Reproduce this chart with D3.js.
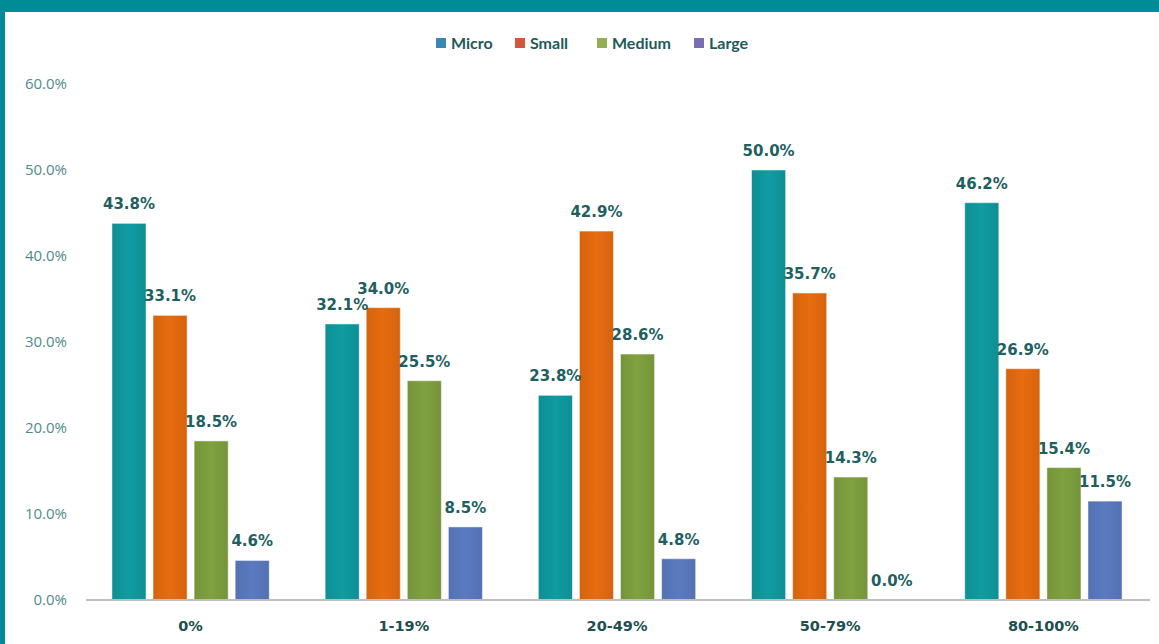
<html lang="en">
<head>
  <meta charset="UTF-8">
  <title>Chart</title>
  <script src="https://cdn.jsdelivr.net/npm/d3@7"></script>
  <style>
    body { margin: 0; background: #fff; }
  </style>
</head>
<body>
  <svg width="1159" height="644"></svg>
  <script>
    // data
    const categories = ["0%", "1-19%", "20-49%", "50-79%", "80-100%"];
    const series = ["Micro", "Small", "Medium", "Large"];
    const micro  = [43.8, 32.1, 23.8, 50.0, 46.2];
    const small  = [33.1, 34.0, 42.9, 35.7, 26.9];
    const medium = [18.5, 25.5, 28.6, 14.3, 15.4];
    const large  = [4.6, 8.5, 4.8, 0.0, 11.5];
    const yTicks = [0, 10, 20, 30, 40, 50, 60];

    const values = { Micro: micro, Small: small, Medium: medium, Large: large };
    const barColors = { Micro: "#0e979c", Small: "#e0680f", Medium: "#7b9c3e", Large: "#5877ba" };
    const legendColors = { Micro: "#3b87b3", Small: "#d4553a", Medium: "#92ae52", Large: "#7b6db2" };

    const svg = d3.select("svg");

    // frame
    svg.append("rect").attr("x", 0).attr("y", 0).attr("width", 1159).attr("height", 12).attr("fill", "#008c96");
    svg.append("rect").attr("x", 0).attr("y", 0).attr("width", 5).attr("height", 644).attr("fill", "#008c96");

    const x0 = d3.scaleBand().domain(categories).range([84, 1150]).paddingInner(0).paddingOuter(0);
    const x1 = d3.scaleBand().domain(series).range([0, x0.bandwidth()]).paddingInner(0.17).paddingOuter(0.68);
    const y = d3.scaleLinear().domain([0, 60]).range([600, 84]);

    // y axis labels
    svg.append("g").selectAll("text").data(yTicks).join("text")
      .attr("x", 67).attr("y", d => y(d) + 5)
      .attr("text-anchor", "end")
      .attr("font-family", "Open Sans, sans-serif").attr("font-size", 15)
      .attr("fill", "#4f8c8c")
      .text(d => d.toFixed(1) + "%");

    // gradients
    const defs = svg.append("defs");
    series.forEach(s => {
      const g = defs.append("linearGradient").attr("id", "g-" + s).attr("x1", 0).attr("x2", 1);
      const c = d3.color(barColors[s]);
      g.append("stop").attr("offset", "0%").attr("stop-color", c.darker(0.15));
      g.append("stop").attr("offset", "50%").attr("stop-color", c.brighter(0.1));
      g.append("stop").attr("offset", "100%").attr("stop-color", c.darker(0.15));
    });

    const groups = svg.append("g").selectAll("g").data(categories).join("g")
      .attr("transform", d => `translate(${x0(d)},0)`);

    groups.selectAll("rect").data((d, i) => series.map(s => ({ s, v: values[s][i] }))).join("rect")
      .attr("x", d => x1(d.s)).attr("width", x1.bandwidth())
      .attr("y", d => y(d.v)).attr("height", d => y(0) - y(d.v))
      .attr("fill", d => `url(#g-${d.s})`)
      .attr("stroke", "#ffffff").attr("stroke-opacity", 0.5).attr("stroke-width", 1);

    groups.selectAll("text").data((d, i) => series.map(s => ({ s, v: values[s][i] }))).join("text")
      .attr("x", d => x1(d.s) + x1.bandwidth() / 2)
      .attr("y", d => y(d.v) - 14)
      .attr("text-anchor", "middle")
      .attr("font-family", "DejaVu Sans, sans-serif").attr("font-weight", "bold").attr("font-size", 15)
      .attr("fill", "#1e5f5f")
      .text(d => d.v.toFixed(1) + "%");

    // x axis line
    svg.append("line").attr("x1", 86).attr("x2", 1150).attr("y1", y(0)).attr("y2", y(0))
      .attr("stroke", "#bfbfbf").attr("stroke-width", 2);

    svg.append("g").selectAll("text").data(categories).join("text")
      .attr("x", d => x0(d) + x0.bandwidth() / 2).attr("y", 631)
      .attr("text-anchor", "middle")
      .attr("font-family", "DejaVu Sans, sans-serif").attr("font-weight", "bold").attr("font-size", 14.5)
      .attr("fill", "#1e5050")
      .text(d => d);

    // legend
    const legX = [436, 515, 597, 694];
    const leg = svg.append("g").selectAll("g").data(series).join("g")
      .attr("transform", (d, i) => `translate(${legX[i]},38)`);
    leg.append("rect").attr("width", 10).attr("height", 10).attr("fill", d => legendColors[d]);
    leg.append("text").attr("x", 15).attr("y", 11)
      .attr("font-family", "Lato, sans-serif").attr("font-weight", "bold").attr("font-size", 16)
      .attr("fill", "#1e5a5a")
      .text(d => d);
  </script>
</body>
</html>
